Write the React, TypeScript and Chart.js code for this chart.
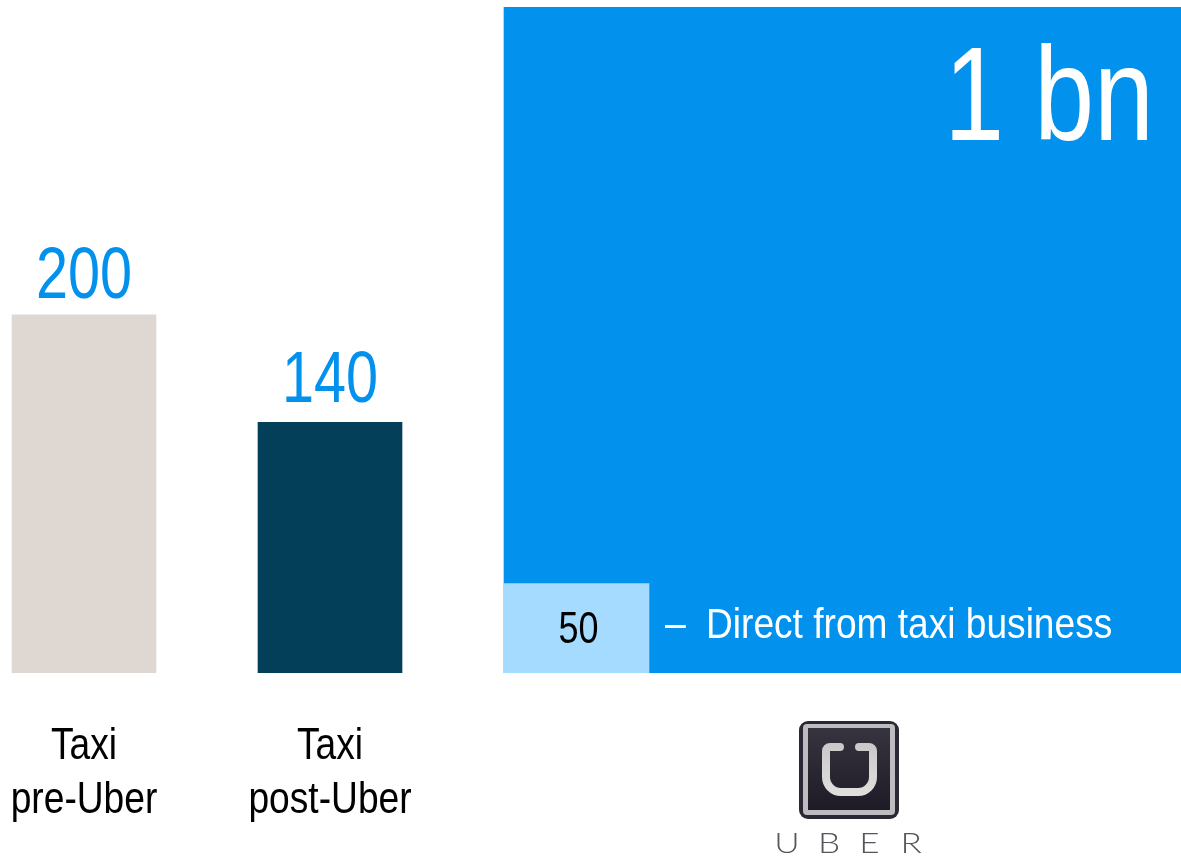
import React, { useEffect, useRef } from "react";
import { Chart, registerables } from "chart.js";

Chart.register(...registerables);

const taxiCategories = [["Taxi", "pre-Uber"], ["Taxi", "post-Uber"]];
const taxiValues = [200, 140];
const taxiLabels = ["200", "140"];
const uberTotal = 1000;
const uberTotalLabel = "1 bn";
const uberDirect = 50;
const uberDirectLabel = "50";
const uberDirectDash = "–";
const uberDirectNote = "Direct from taxi business";
const logoLetters = ["U", "B", "E", "R"];

const W = 1181;
const H = 856;
const SANS = '"Liberation Sans", Arial, sans-serif';
const BLUE = "#0391ee";

// Horizontal layout of the bars, in canvas-width units on the linear x axis.
const taxiCentres = [84, 330];
const taxiWidth = 144;
const uberCentre = 842.5;
const uberWidth = 677;
const directCentre = 576.5;
const directWidth = 145;

// Canvas text condensed horizontally around its anchor point.
function condensedText(
  ctx: CanvasRenderingContext2D,
  text: string,
  x: number,
  y: number,
  size: number,
  ratio: number,
  align: CanvasTextAlign = "center",
) {
  ctx.save();
  ctx.font = `${size}px ${SANS}`;
  ctx.textAlign = align;
  ctx.textBaseline = "alphabetic";
  ctx.translate(x, y);
  ctx.scale(ratio, 1);
  ctx.fillText(text, 0, 0);
  ctx.restore();
}

const barLabels = {
  id: "barLabels",
  afterDatasetsDraw(chart: any) {
    const { ctx, chartArea } = chart;
    ctx.save();

    ctx.fillStyle = BLUE;
    const gaps = [17, 20];
    taxiLabels.forEach((text, i) => {
      const bar = chart.getDatasetMeta(i).data[0];
      condensedText(ctx, text, bar.x, bar.y - gaps[i], 72, 0.8);
    });

    const uber = chart.getDatasetMeta(3).data[0];
    ctx.fillStyle = "#ffffff";
    condensedText(ctx, uberTotalLabel, uber.x + uber.width / 2 - 27, chartArea.top + 133, 133, 0.81, "right");

    const direct = chart.getDatasetMeta(2).data[0];
    const noteLeft = direct.x + direct.width / 2;
    condensedText(ctx, uberDirectDash, noteLeft + 16, chartArea.bottom - 35, 44, 0.85, "left");
    condensedText(ctx, uberDirectNote, noteLeft + 57, chartArea.bottom - 35, 43, 0.863, "left");

    ctx.fillStyle = "#000000";
    condensedText(ctx, uberDirectLabel, direct.x + 2, chartArea.bottom - 30, 45, 0.8);
    ctx.restore();
  },
};

// Category labels under the taxi bars, two lines each.
const categoryLabels = {
  id: "categoryLabels",
  afterDraw(chart: any) {
    const { ctx, scales } = chart;
    ctx.save();
    ctx.fillStyle = "#000000";
    taxiCategories.forEach((lines, i) => {
      const x = scales.x.getPixelForValue(taxiCentres[i]);
      lines.forEach((line, j) => {
        condensedText(ctx, line, x, scales.x.top + 86 + j * 54, 44, 0.845);
      });
    });
    ctx.restore();
  },
};

// The app badge and wordmark underneath the large bar.
const uberBadge = {
  id: "uberBadge",
  afterDraw(chart: any) {
    const { ctx } = chart;
    ctx.save();
    ctx.fillStyle = "#2b2833";
    ctx.beginPath();
    ctx.roundRect(799, 721, 100, 98, 9);
    ctx.fill();
    ctx.fillStyle = "#bdbdc1";
    ctx.beginPath();
    ctx.roundRect(803, 724, 92, 91, 4);
    ctx.fill();
    const face = ctx.createLinearGradient(0, 728, 0, 810);
    face.addColorStop(0, "#38343f");
    face.addColorStop(1, "#1f1b26");
    ctx.fillStyle = face;
    ctx.fillRect(808, 728, 82, 82);

    const glyph = ctx.createLinearGradient(0, 742, 0, 797);
    glyph.addColorStop(0, "#c8c8c8");
    glyph.addColorStop(1, "#e0e0de");
    ctx.strokeStyle = glyph;
    ctx.lineWidth = 8;
    ctx.lineJoin = "round";
    ctx.lineCap = "round";
    ctx.beginPath();
    ctx.moveTo(840, 747);
    ctx.arcTo(826, 747, 826, 760, 4);
    ctx.lineTo(826, 776);
    ctx.arcTo(826, 792, 842, 792, 15);
    ctx.lineTo(858, 792);
    ctx.arcTo(873, 792, 873, 776, 15);
    ctx.lineTo(873, 760);
    ctx.arcTo(873, 747, 859, 747, 4);
    ctx.lineTo(859, 747);
    ctx.stroke();

    ctx.fillStyle = "#55555b";
    ctx.textAlign = "center";
    ctx.textBaseline = "alphabetic";
    ctx.font = '300 28px Lato, "Noto Sans", sans-serif';
    const letterCentres = [787, 829, 869.5, 911];
    logoLetters.forEach((letter, i) => {
      ctx.save();
      ctx.translate(letterCentres[i], 853);
      ctx.scale(1.25, 1);
      ctx.fillText(letter, 0, 0);
      ctx.restore();
    });
    ctx.restore();
  },
};

const makeBar = (label: string, x: number, y: number, thickness: number, color: string, order: number) => ({
  label,
  data: [{ x, y }],
  backgroundColor: color,
  borderWidth: 0,
  barThickness: thickness,
  grouped: false,
  order,
});

export default function App() {
  const ref = useRef<HTMLCanvasElement>(null);

  useEffect(() => {
    const chart = new Chart(ref.current as HTMLCanvasElement, {
      type: "bar",
      data: {
        datasets: [
          makeBar("Taxi pre-Uber", taxiCentres[0], taxiValues[0], taxiWidth, "#dfd7d2", 1),
          makeBar("Taxi post-Uber", taxiCentres[1], taxiValues[1], taxiWidth, "#033f58", 1),
          makeBar("Direct from taxi business", directCentre, uberDirect, directWidth, "#a5dbff", 0),
          makeBar("Uber", uberCentre, uberTotal, uberWidth, BLUE, 2),
        ],
      },
      options: {
        responsive: false,
        animation: false,
        layout: { padding: { top: 7, left: 0, right: 0, bottom: 0 } },
        plugins: { legend: { display: false }, tooltip: { enabled: false } },
        scales: {
          x: {
            type: "linear",
            min: 0,
            max: W,
            offset: false,
            grid: { display: false, drawTicks: false },
            border: { display: false },
            ticks: { display: false },
            afterFit(scale: any) {
              scale.height = H - 673;
              scale.paddingLeft = 0;
              scale.paddingRight = 0;
            },
          },
          // The axis stops short of the largest value, so that bar runs off the plot.
          y: { display: false, min: 0, max: 372, grid: { display: false } },
        },
      },
      plugins: [barLabels, categoryLabels, uberBadge],
    } as any);
    return () => chart.destroy();
  }, []);

  return (
    <div style={{ position: "absolute", left: 0, top: 0, width: W, height: H, overflow: "hidden", background: "#ffffff" }}>
      <canvas ref={ref} width={W} height={H} style={{ display: "block" }} />
    </div>
  );
}
